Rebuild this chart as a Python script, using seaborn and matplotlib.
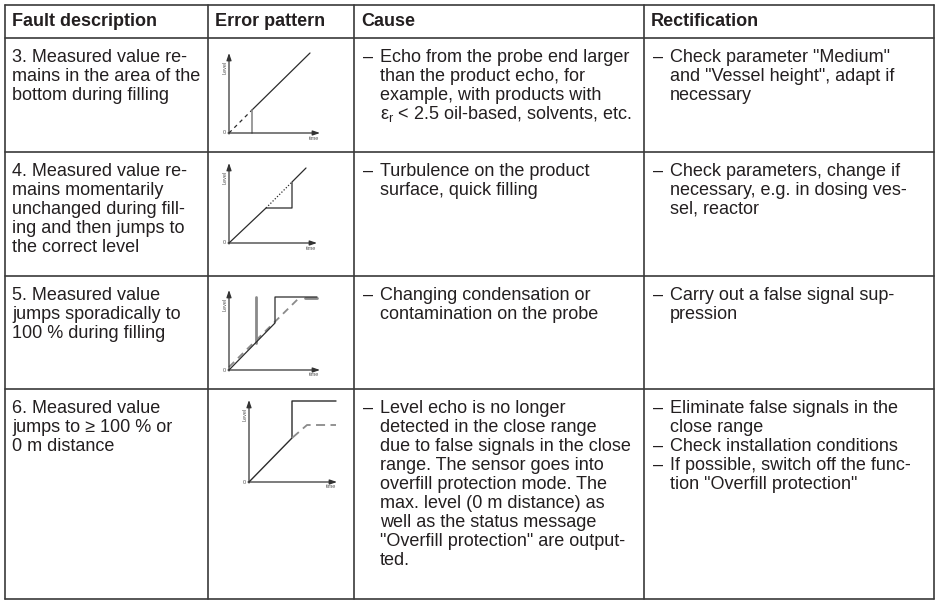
import matplotlib
matplotlib.use("Agg")
from matplotlib import pyplot as plt
import seaborn as sns
import pandas as pd

# table layout (pixels)
col_x = [5, 208, 354, 644, 934]
row_y = [5, 38, 152, 276, 389, 599]

headers = ["Fault description", "Error pattern", "Cause", "Rectification"]

faults = [
    ["3. Measured value re-", "mains in the area of the", "bottom during filling"],
    ["4. Measured value re-", "mains momentarily", "unchanged during fill-",
     "ing and then jumps to", "the correct level"],
    ["5. Measured value", "jumps sporadically to", "100 % during filling"],
    ["6. Measured value", "jumps to \u2265 100 % or", "0 m distance"],
]

causes = [
    ["\u2013 Echo from the probe end larger", "than the product echo, for",
     "example, with products with", "\u03b5${}_\\mathrm{r}$ < 2.5 oil-based, solvents, etc."],
    ["\u2013 Turbulence on the product", "surface, quick filling"],
    ["\u2013 Changing condensation or", "contamination on the probe"],
    ["\u2013 Level echo is no longer", "detected in the close range",
     "due to false signals in the close", "range. The sensor goes into",
     "overfill protection mode. The", "max. level (0 m distance) as",
     "well as the status message", "\"Overfill protection\" are output-", "ted."],
]

fixes = [
    ["\u2013 Check parameter \"Medium\"", "and \"Vessel height\", adapt if", "necessary"],
    ["\u2013 Check parameters, change if", "necessary, e.g. in dosing ves-", "sel, reactor"],
    ["\u2013 Carry out a false signal sup-", "pression"],
    ["\u2013 Eliminate false signals in the", "close range",
     "\u2013 Check installation conditions",
     "\u2013 If possible, switch off the func-", "tion \"Overfill protection\""],
]

# error pattern sketches: (time, level) points of each drawn line
p3_dash_t, p3_dash_l = [0, 23], [0, 23]
p3_echo_t, p3_echo_l = [23, 81], [23, 80]
p3_drop_t, p3_drop_l = [23, 23], [0, 23]

p4_real_t, p4_real_l = [0, 37, 63, 63, 77], [0, 35, 35, 61, 75]
p4_dot_t, p4_dot_l = [37, 63], [35, 61]

p5_meas_t, p5_meas_l = [0, 46, 46, 88], [0, 47, 73, 73]
p5_spike_t, p5_spike_l = [27, 27], [27, 73]
p5_real_t, p5_real_l = [0, 70], [3, 72]
p5_end_t, p5_end_l = [76, 88], [72, 72]

p6_meas_t, p6_meas_l = [0, 43, 43, 87], [0, 44, 81, 81]
p6_real_t, p6_real_l = [43, 58, 87], [44, 57, 57]

sns.set_theme(style="white")
plt.rcParams["font.family"] = ["Liberation Sans", "DejaVu Sans"]
plt.rcParams["mathtext.fontset"] = "custom"
plt.rcParams["mathtext.rm"] = "Liberation Sans"

W, H = 939, 600
fig = plt.figure(figsize=(W / 100, H / 100), dpi=100)
ax = fig.add_axes([0, 0, 1, 1])
ax.set_xlim(0, W)
ax.set_ylim(H, 0)
ax.axis("off")

line_c = "#3a3a3a"
for x in col_x:
    ax.plot([x, x], [row_y[0], row_y[-1]], color=line_c, lw=1.2)
for y in row_y:
    ax.plot([col_x[0], col_x[-1]], [y, y], color=line_c, lw=1.2)

fs = 13
txt_c = "#231f20"
for i, h in enumerate(headers):
    ax.text(col_x[i] + 7, 26, h, fontsize=fs, fontweight="bold", color=txt_c, va="baseline")


def cell(lines, x0, top, bullets):
    for k, s in enumerate(lines):
        y = top + 24 + 19 * k
        if bullets:
            if s.startswith("\u2013 "):
                ax.text(x0 + 9, y, "\u2013", fontsize=fs, color=txt_c, va="baseline")
                s = s[2:]
            ax.text(x0 + 26, y, s, fontsize=fs, color=txt_c, va="baseline")
        else:
            ax.text(x0 + 7, y, s, fontsize=fs, color=txt_c, va="baseline")


for r in range(4):
    cell(faults[r], col_x[0], row_y[r + 1], False)
    cell(causes[r], col_x[2], row_y[r + 1], True)
    cell(fixes[r], col_x[3], row_y[r + 1], True)


def sketch(ox, oy, w, h, series):
    a = fig.add_axes([(ox - 10) / W, (H - (oy + 10)) / H, (w + 18) / W, (h + 16) / H])
    a.set_xlim(-10, w + 8)
    a.set_ylim(-10, h + 6)
    a.axis("off")
    for t, l, c, ls, lw in series:
        df = pd.DataFrame({"time": t, "level": l})
        sns.lineplot(data=df, x="time", y="level", ax=a, color=c, linestyle=ls,
                     lw=lw, sort=False, estimator=None)
    arrow = dict(arrowstyle="-|>,head_length=0.35,head_width=0.12", color="#333333",
                 lw=0.9, shrinkA=0, shrinkB=0)
    a.annotate("", xy=(0, h), xytext=(0, -1), arrowprops=arrow)
    a.annotate("", xy=(w, 0), xytext=(-1, 0), arrowprops=arrow)
    a.text(-4, h - 14, "Level", rotation=90, fontsize=4, color="#555555", ha="center", va="center")
    a.text(-5, 0, "0", fontsize=4, color="#555555", ha="center", va="center")
    a.text(w - 1, -5, "time", fontsize=4, color="#555555", ha="right", va="center")
    a.set_xlabel("")
    a.set_ylabel("")


dark = "#2b2b2b"
grey = "#8a8a8a"
sketch(229, 133, 91, 80, [
    (p3_dash_t, p3_dash_l, dark, (0, (3, 3)), 0.9),
    (p3_echo_t, p3_echo_l, dark, "-", 0.9),
    (p3_drop_t, p3_drop_l, grey, "-", 1.2),
])
sketch(229, 243, 88, 80, [
    (p4_real_t, p4_real_l, dark, "-", 0.9),
    (p4_dot_t, p4_dot_l, dark, (0, (1, 1.5)), 0.9),
])
sketch(229, 370, 91, 80, [
    (p5_real_t, p5_real_l, grey, (0, (4, 3)), 1.3),
    (p5_end_t, p5_end_l, grey, "-", 2.0),
    (p5_spike_t, p5_spike_l, grey, "-", 2.0),
    (p5_meas_t, p5_meas_l, dark, "-", 0.9),
])
sketch(249, 482, 88, 82, [
    (p6_meas_t, p6_meas_l, dark, "-", 1.0),
    (p6_real_t, p6_real_l, grey, (0, (5, 3)), 1.3),
])

fig.savefig("out.png", dpi=100)
